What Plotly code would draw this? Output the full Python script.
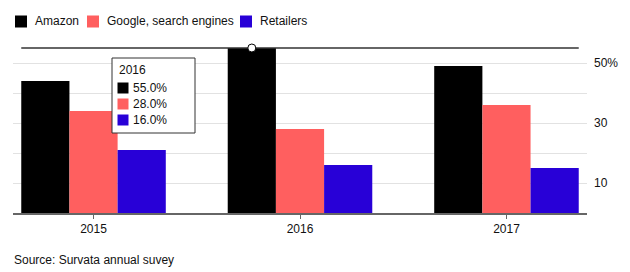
import plotly.graph_objects as go

years = ["2015", "2016", "2017"]
series_names = ["Amazon", "Google, search engines", "Retailers"]
amazon = [44, 55, 49]
google = [34, 28, 36]
retailers = [21, 16, 15]
colors = ["#000000", "#FF5F5F", "#2800D7"]
y_tickvals = [10, 20, 30, 40, 50]
y_ticktext = ["10", "", "30", "", "50%"]
hover_year = "2016"
source_text = "Source: Survata annual suvey"

W, H = 630, 272
ML, MR, MT, MB = 13, 43, 39, 59
PW, PH = W - ML - MR, H - MT - MB
FONT = "Liberation Sans, Arial, sans-serif"


def px(x):
    return (x - ML) / PW


def py(y):
    return (H - MB - y) / PH


values = [amazon, google, retailers]
fig = go.Figure()
for name, vals, col in zip(series_names, values, colors):
    fig.add_trace(go.Bar(x=years, y=vals, name=name, marker=dict(color=col, line=dict(width=0)),
                         showlegend=False))

shapes = []
annotations = []

# custom legend
leg_sq_x = [15, 87, 240]
leg_txt_x = [33, 105, 258]
leg_y = 21.5
for name, col, sx, tx in zip(series_names, colors, leg_sq_x, leg_txt_x):
    shapes.append(dict(type="rect", xref="paper", yref="paper",
                       x0=px(sx), x1=px(sx + 12), y0=py(leg_y + 6), y1=py(leg_y - 6),
                       fillcolor=col, line=dict(width=0)))
    annotations.append(dict(text=name, xref="paper", yref="paper", x=px(tx), y=py(leg_y),
                            xanchor="left", yanchor="middle", showarrow=False,
                            font=dict(size=12, color="#111", family=FONT)))

# hover line and marker
hi = years.index(hover_year)
hv = max(values[0])
group_w = 0.7
shapes.append(dict(type="line", xref="x", yref="y", x0=-group_w / 2, x1=len(years) - 1 + group_w / 2,
                   y0=hv, y1=hv, line=dict(color="#333", width=1.5), layer="above"))
shapes.append(dict(type="circle", xref="x", yref="y", xsizemode="pixel", ysizemode="pixel",
                   xanchor=hi - group_w / 3, yanchor=hv, x0=-4, x1=4, y0=-4, y1=4,
                   fillcolor="white", line=dict(color="#000", width=1), layer="above"))

# tooltip box
bx0, bx1, by0, by1 = 112, 195, 58, 133
shapes.append(dict(type="rect", xref="paper", yref="paper", x0=px(bx0), x1=px(bx1),
                   y0=py(by1), y1=py(by0), fillcolor="white", line=dict(color="#333", width=1),
                   layer="above"))
annotations.append(dict(text=hover_year, xref="paper", yref="paper", x=px(117), y=py(69.5),
                        xanchor="left", yanchor="middle", showarrow=False,
                        font=dict(size=12, color="#111", family=FONT)))
row_y = [88, 104, 120]
for vals, col, ry in zip(values, colors, row_y):
    shapes.append(dict(type="rect", xref="paper", yref="paper", x0=px(117.5), x1=px(128.5),
                       y0=py(ry + 5.5), y1=py(ry - 5.5), fillcolor=col, line=dict(width=0),
                       layer="above"))
    annotations.append(dict(text=f"{vals[hi]:.1f}%", xref="paper", yref="paper", x=px(131),
                            y=py(ry), xanchor="left", yanchor="middle", showarrow=False,
                            font=dict(size=12, color="#111", family=FONT)))

annotations.append(dict(text=source_text, xref="paper", yref="paper", x=px(12), y=py(259.5),
                        xanchor="left", yanchor="middle", showarrow=False,
                        font=dict(size=12, color="#111", family=FONT)))

fig.update_layout(
    width=W, height=H, margin=dict(l=ML, r=MR, t=MT, b=MB),
    paper_bgcolor="white", plot_bgcolor="white",
    barmode="group", bargap=0.3, bargroupgap=0,
    font=dict(family=FONT, size=12, color="#111"),
    shapes=shapes, annotations=annotations,
    xaxis=dict(type="category", range=[-0.39, 2.39], showline=True, linecolor="#666", linewidth=1.5,
               ticks="outside", ticklen=4, tickcolor="#666", tickwidth=1,
               tickfont=dict(size=12, color="#111"), showgrid=False, zeroline=False, fixedrange=True),
    yaxis=dict(side="right", range=[0, 58], tickvals=y_tickvals, ticktext=y_ticktext,
               showgrid=True, gridcolor="#e2e2e2", gridwidth=1, zeroline=False, showline=False,
               ticks="", ticklabelstandoff=6, tickfont=dict(size=12, color="#111"), fixedrange=True),
    showlegend=False,
)

fig.write_html("out.html")
